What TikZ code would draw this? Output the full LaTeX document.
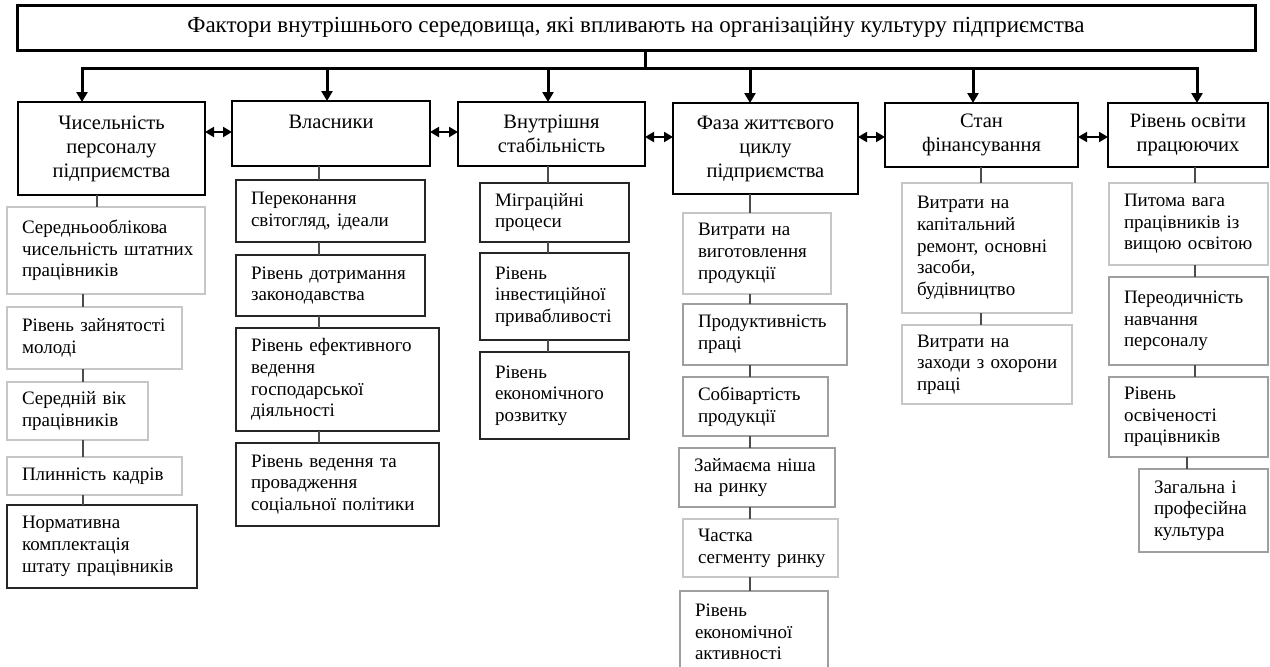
\documentclass[tikz,border=0pt]{standalone}
\usepackage{fontspec}
\setmainfont{Liberation Serif}
\usetikzlibrary{arrows.meta}

\begin{document}
\begin{tikzpicture}[x=1pt,y=-1pt,
  head/.style={draw, line width=3pt, anchor=north west, outer sep=0pt, font=\fontsize{23}{27}\selectfont},
  fac/.style={draw, line width=2pt, anchor=north west, outer sep=0pt, align=center, inner sep=0pt, font=\fontsize{20.5}{24}\selectfont},
  ind/.style={draw=gray!45, line width=1.3pt, anchor=north west, outer sep=0pt, align=left, inner xsep=15pt, inner ysep=0pt, font=\fontsize{19}{21.7}\selectfont},
  indm/.style={ind, draw=gray!75},
  indd/.style={ind, draw=black!85, line width=1.8pt},
  link/.style={line width=1.6pt, black!70},
  down/.style={line width=3pt, -{Triangle[length=10pt,width=11pt]}},
  dbl/.style={line width=2pt, {Triangle[length=9pt,width=10pt]}-{Triangle[length=9pt,width=10pt]}}]
\useasboundingbox (0,0) rectangle (1270,667);

% title and factors
\node[head, minimum width=1238pt, minimum height=45pt] (fac0) at (17,5) {Фактори внутрішнього середовища, які впливають на організаційну культуру підприємства};
\node[fac, minimum width=187pt, minimum height=93pt] (fac1) at (18,102) {Чисельність\\ персоналу\\ підприємства};
\node[fac, minimum width=198pt, minimum height=65pt] (fac2) at (232,101) {Власники\\ \mbox{}};
\node[fac, minimum width=187pt, minimum height=64pt] (fac3) at (458,102) {Внутрішня\\ стабільність};
\node[fac, minimum width=185pt, minimum height=91pt] (fac4) at (673,103) {Фаза життєвого\\ циклу\\ підприємства};
\node[fac, minimum width=193pt, minimum height=64pt] (fac5) at (885,103) {Стан\\ фінансування};
\node[fac, minimum width=160pt, minimum height=64pt] (fac6) at (1108,103) {Рівень освіти\\ працюючих};

% bus
\coordinate (j0) at (645,68);
\coordinate (b1) at (82,68);
\coordinate (b2) at (327,68);
\coordinate (b3) at (548,68);
\coordinate (b4) at (750,68);
\coordinate (b5) at (973,68);
\coordinate (b6) at (1197,68);
\draw[line width=3pt] (fac0.south -| j0) -- (j0);
\draw[line width=3pt, {Triangle[length=10pt,width=11pt]}-{Triangle[length=10pt,width=11pt]}] (b1 |- fac1.north) -- (b1) -- (b6) -- (b6 |- fac6.north);
\draw[down] (b2) -- (b2 |- fac2.north);
\draw[down] (b3) -- (b3 |- fac3.north);
\draw[down] (b4) -- (b4 |- fac4.north);
\draw[down] (b5) -- (b5 |- fac5.north);

% links between factors
\coordinate (d1) at (0,132);
\coordinate (d2) at (0,137);
\draw[dbl] (fac1.east |- d1) -- (fac2.west |- d1);
\draw[dbl] (fac2.east |- d1) -- (fac3.west |- d1);
\draw[dbl] (fac3.east |- d2) -- (fac4.west |- d2);
\draw[dbl] (fac4.east |- d2) -- (fac5.west |- d2);
\draw[dbl] (fac5.east |- d2) -- (fac6.west |- d2);

% column 1
\node[ind, minimum width=198pt, minimum height=87pt, text width=168pt] (ind11) at (7,207) {Середньооблікова\\ чисельність~штатних\\ працівників};
\node[ind, minimum width=175pt, minimum height=62pt, text width=145pt] (ind12) at (7,307) {Рівень~зайнятості\\ молоді};
\node[ind, minimum width=141pt, minimum height=58pt, text width=111pt] (ind13) at (7,382) {Середній~вік\\ працівників};
\node[ind, minimum width=175pt, minimum height=38pt, text width=145pt] (ind14) at (7,457) {Плинність~кадрів};
\node[indd, minimum width=190pt, minimum height=83pt, text width=160pt] (ind15) at (7,505) {Нормативна\\ комплектація\\ штату~працівників};
\coordinate (k1) at (97,0);
\coordinate (k1b) at (83,0);
\draw[link] (fac1.south -| k1) -- (ind11.north -| k1);
\draw[link] (ind11.south -| k1b) -- (ind12.north -| k1b);
\draw[link] (ind12.south -| k1b) -- (ind13.north -| k1b);
\draw[link] (ind13.south -| k1b) -- (ind14.north -| k1b);
\draw[link] (ind14.south -| k1b) -- (ind15.north -| k1b);

% column 2
\node[indd, minimum width=189pt, minimum height=62pt, text width=159pt] (ind21) at (236,180) {Переконання\\ світогляд,~ідеали};
\node[indd, minimum width=189pt, minimum height=61pt, text width=159pt] (ind22) at (236,255) {Рівень~дотримання\\ законодавства};
\node[indd, minimum width=203pt, minimum height=103pt, text width=173pt] (ind23) at (236,328) {Рівень~ефективного\\ ведення\\ господарської\\ діяльності};
\node[indd, minimum width=203pt, minimum height=83pt, text width=173pt] (ind24) at (236,443) {Рівень~ведення~та\\ провадження\\ соціальної~політики};
\coordinate (k2) at (319,0);
\draw[link] (fac2.south -| k2) -- (ind21.north -| k2);
\draw[link] (ind21.south -| k2) -- (ind22.north -| k2);
\draw[link] (ind22.south -| k2) -- (ind23.north -| k2);
\draw[link] (ind23.south -| k2) -- (ind24.north -| k2);

% column 3
\node[indd, minimum width=149pt, minimum height=59pt, text width=119pt] (ind31) at (480,183) {Міграційні\\ процеси};
\node[indd, minimum width=149pt, minimum height=87pt, text width=119pt] (ind32) at (480,253) {Рівень\\ інвестиційної\\ привабливості};
\node[indd, minimum width=149pt, minimum height=87pt, text width=119pt] (ind33) at (480,352) {Рівень\\ економічного\\ розвитку};
\coordinate (k3) at (548,0);
\draw[link] (fac3.south -| k3) -- (ind31.north -| k3);
\draw[link] (ind31.south -| k3) -- (ind32.north -| k3);
\draw[link] (ind32.south -| k3) -- (ind33.north -| k3);

% column 4
\node[ind, minimum width=148pt, minimum height=81pt, text width=118pt] (ind41) at (683,213) {Витрати~на\\ виготовлення\\ продукції};
\node[indm, minimum width=164pt, minimum height=61pt, text width=134pt] (ind42) at (683,304) {Продуктивність\\ праці};
\node[indm, minimum width=145pt, minimum height=59pt, text width=115pt] (ind43) at (683,377) {Собівартість\\ продукції};
\node[indm, minimum width=156pt, minimum height=59pt, text width=126pt] (ind44) at (679,448) {Займаєма~ніша\\ на~ринку};
\node[ind, minimum width=155pt, minimum height=58pt, text width=125pt] (ind45) at (683,519) {Частка\\ сегменту~ринку};
\node[indm, minimum width=148pt, minimum height=82pt, text width=118pt] (ind46) at (680,591) {Рівень\\ економічної\\ активності};
\coordinate (k4) at (750,0);
\draw[link] (fac4.south -| k4) -- (ind41.north -| k4);
\draw[link] (ind41.south -| k4) -- (ind42.north -| k4);
\draw[link] (ind42.south -| k4) -- (ind43.north -| k4);
\draw[link] (ind43.south -| k4) -- (ind44.north -| k4);
\draw[link] (ind44.south -| k4) -- (ind45.north -| k4);
\draw[link] (ind45.south -| k4) -- (ind46.north -| k4);

% column 5
\node[ind, minimum width=170pt, minimum height=130pt, text width=140pt] (ind51) at (902,183) {Витрати~на\\ капітальний\\ ремонт,~основні\\ засоби,\\ будівництво};
\node[ind, minimum width=170pt, minimum height=79pt, text width=140pt] (ind52) at (902,325) {Витрати~на\\ заходи~з~охорони\\ праці};
\coordinate (k5) at (981,0);
\draw[link] (fac5.south -| k5) -- (ind51.north -| k5);
\draw[link] (ind51.south -| k5) -- (ind52.north -| k5);

% column 6
\node[ind, minimum width=159pt, minimum height=82pt, text width=129pt] (ind61) at (1109,183) {Питома~вага\\ працівників~із\\ вищою~освітою};
\node[indm, minimum width=159pt, minimum height=88pt, text width=129pt] (ind62) at (1109,277) {Переодичність\\ навчання\\ персоналу};
\node[indm, minimum width=159pt, minimum height=80pt, text width=129pt] (ind63) at (1109,377) {Рівень\\ освіченості\\ працівників};
\node[indm, minimum width=129pt, minimum height=83pt, text width=99pt] (ind64) at (1139,469) {Загальна~і\\ професійна\\ культура};
\coordinate (k6) at (1195,0);
\coordinate (k6b) at (1187,0);
\draw[link] (fac6.south -| k6) -- (ind61.north -| k6);
\draw[link] (ind61.south -| k6) -- (ind62.north -| k6);
\draw[link] (ind62.south -| k6) -- (ind63.north -| k6);
\draw[link] (ind63.south -| k6b) -- (ind64.north -| k6b);
\end{tikzpicture}
\end{document}
